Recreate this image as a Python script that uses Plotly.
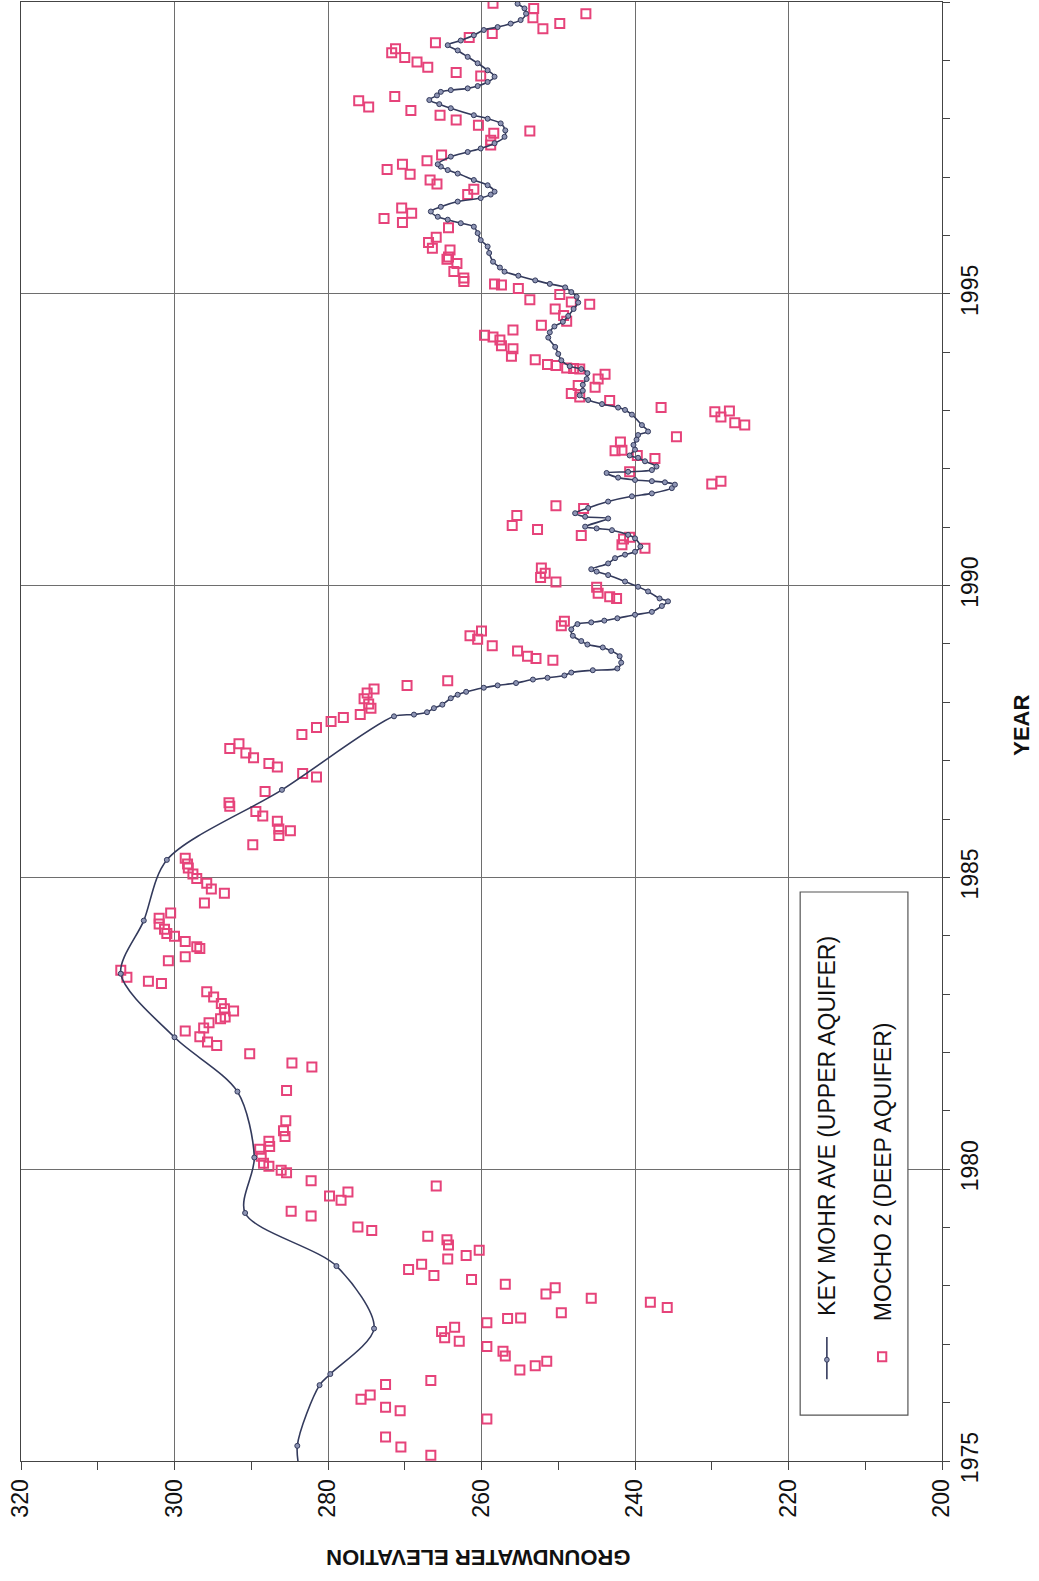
import plotly.graph_objects as go

# ---- Data: KEY MOHR AVE (UPPER AQUIFER) ----
upper_year = [
    1974.6, 1975.26, 1976.30, 1976.49, 1977.27, 1978.34, 1979.25, 1980.2, 1981.33, 1982.26,
    1983.35, 1984.26, 1985.30, 1986.50, 1987.76,
    1987.79, 1987.83, 1987.90, 1987.96, 1988.07, 1988.13, 1988.18, 1988.25, 1988.29, 1988.33,
    1988.39, 1988.42, 1988.46, 1988.51, 1988.55, 1988.58, 1988.68, 1988.79, 1988.88, 1988.94,
    1988.99, 1989.05, 1989.14, 1989.25, 1989.34, 1989.37, 1989.40, 1989.44, 1989.50, 1989.55,
    1989.65, 1989.73, 1989.78, 1989.90, 1989.98, 1990.07, 1990.18, 1990.24, 1990.28, 1990.38,
    1990.47, 1990.53, 1990.58, 1990.67, 1990.81, 1990.87, 1990.95, 1990.98, 1991.01, 1991.15,
    1991.18, 1991.24, 1991.33, 1991.44, 1991.53, 1991.58, 1991.67, 1991.73, 1991.77, 1991.79,
    1991.81, 1991.85, 1991.93, 1991.95, 1991.98, 1992.04, 1992.13, 1992.19, 1992.23, 1992.33,
    1992.41, 1992.50, 1992.58, 1992.64, 1992.75, 1992.93, 1993.01, 1993.05, 1993.11, 1993.18,
    1993.26, 1993.34, 1993.44, 1993.54, 1993.64, 1993.71, 1993.76, 1993.86, 1993.97, 1994.09,
    1994.25, 1994.34, 1994.44, 1994.52, 1994.62, 1994.74, 1994.85, 1994.95, 1995.03, 1995.11,
    1995.17, 1995.23, 1995.31, 1995.38, 1995.45, 1995.55, 1995.70, 1995.81, 1995.92, 1996.04,
    1996.15, 1996.21, 1996.27, 1996.32, 1996.41, 1996.49, 1996.58, 1996.64, 1996.70, 1996.75,
    1996.86, 1996.95, 1997.06, 1997.12, 1997.18, 1997.22, 1997.35, 1997.43, 1997.49, 1997.58,
    1997.69, 1997.80, 1997.92, 1998.00, 1998.06, 1998.18, 1998.25, 1998.32, 1998.40, 1998.46,
    1998.49, 1998.52, 1998.56, 1998.63, 1998.72, 1998.83, 1998.95, 1999.06, 1999.17, 1999.26,
    1999.34, 1999.43, 1999.52, 1999.57, 1999.63, 1999.69, 1999.80, 1999.89, 1999.97, 2000.05,
]
upper_elev = [
    283.3, 284.0, 281.1, 279.7, 274.0, 278.9, 290.8, 289.6, 291.8, 300.0,
    307.0, 304.0, 301.0, 286.0, 271.4,
    268.8, 267.1, 266.2, 265.1, 264.0, 263.1, 262.0, 259.7, 257.9, 255.5,
    253.3, 251.4, 249.2, 248.3, 245.5, 242.3, 241.8, 242.0, 243.1, 244.2,
    246.2, 247.0, 248.1, 248.3, 247.5, 245.7, 244.0, 242.3, 240.0, 237.8,
    236.5, 235.7, 236.8, 238.3, 239.6, 241.3, 243.5, 245.0, 245.7, 243.5,
    242.6, 241.3, 240.0, 239.3, 240.0, 240.9, 243.0, 245.0, 246.5, 243.5,
    246.5, 247.8, 246.1, 243.5, 240.4, 237.8, 235.2, 234.8, 236.1, 237.8,
    240.0, 242.2, 243.7, 240.9, 237.8, 237.2, 238.7, 239.6, 240.7, 240.0,
    240.2, 239.8, 239.6, 238.3, 239.1, 240.4, 241.3, 242.2, 244.3, 246.1,
    247.2, 246.8, 246.8, 246.3, 246.2, 247.0, 248.5, 249.6, 250.0, 250.4,
    251.3, 251.1, 250.5, 249.4, 248.7, 248.0, 247.4, 247.6, 248.3, 249.1,
    251.1, 253.0, 255.2, 257.0, 257.6, 258.5, 259.0, 259.2, 260.1, 260.5,
    261.0, 262.7, 264.4, 265.7, 266.6, 265.3, 263.1, 260.1, 258.8, 258.3,
    259.2, 261.0, 263.1, 264.4, 265.3, 265.7, 264.0, 261.8, 260.1, 258.3,
    257.0, 256.9, 257.5, 259.2, 261.0, 264.0, 265.5, 266.8, 265.8, 265.3,
    264.0, 261.8, 260.5, 259.2, 258.3, 259.2, 260.5, 261.8, 263.1, 264.4,
    262.7, 261.0, 259.7, 257.9, 256.2, 254.9, 254.2, 254.4, 255.3, 255.8,
]

# ---- Data: MOCHO 2 (DEEP AQUIFER) ----
deep_year = [
    1975.10, 1975.24, 1975.41, 1975.72, 1975.86, 1975.92, 1976.06, 1976.13, 1976.31, 1976.38,
    1976.56, 1976.63, 1976.71, 1976.80, 1976.88, 1976.96, 1977.05, 1977.11, 1977.22, 1977.29,
    1977.37, 1977.44, 1977.45, 1977.54, 1977.63, 1977.72, 1977.79, 1977.86, 1977.97, 1978.03,
    1978.11, 1978.18, 1978.28, 1978.37, 1978.46, 1978.52, 1978.61, 1978.70, 1978.79, 1978.85,
    1978.95, 1979.01, 1979.20, 1979.28, 1979.47, 1979.54, 1979.61, 1979.71, 1979.80,
    1979.94, 1979.98, 1980.05, 1980.10, 1980.22, 1980.34, 1980.39, 1980.48, 1980.56, 1980.66,
    1980.83, 1981.35, 1981.75, 1981.82, 1981.98, 1982.12, 1982.18, 1982.27, 1982.37, 1982.42,
    1982.51, 1982.58, 1982.61, 1982.71, 1982.75, 1982.84, 1982.95, 1983.04, 1983.18, 1983.22,
    1983.29, 1983.41, 1983.57, 1983.64, 1983.78, 1983.81, 1983.90, 1983.99, 1984.04, 1984.11,
    1984.20, 1984.30, 1984.39, 1984.56, 1984.73, 1984.80, 1984.90, 1984.98,
    1985.06, 1985.16, 1985.23, 1985.33, 1985.56, 1985.72, 1985.80, 1985.83, 1985.96, 1986.05,
    1986.13, 1986.22, 1986.28, 1986.47, 1986.72, 1986.78, 1986.89, 1986.95, 1987.05, 1987.13,
    1987.21, 1987.29, 1987.45, 1987.57, 1987.67, 1987.74, 1987.79, 1987.90, 1987.97, 1988.06,
    1988.16, 1988.23, 1988.29, 1988.37, 1988.72, 1988.75, 1988.79, 1988.88, 1988.97, 1989.08,
    1989.14, 1989.22, 1989.31, 1989.39,
    1989.78, 1989.81, 1989.87, 1989.97, 1990.06, 1990.14, 1990.21, 1990.30, 1990.64, 1990.70,
    1990.80, 1990.83, 1990.86, 1990.96, 1991.03, 1991.20, 1991.32, 1991.37, 1991.74, 1991.79,
    1991.95, 1992.18, 1992.23, 1992.31, 1992.32, 1992.46, 1992.55, 1992.75, 1992.79, 1992.89,
    1992.98, 1992.99, 1993.05, 1993.17, 1993.23, 1993.29, 1993.40, 1993.43, 1993.54, 1993.62,
    1993.71, 1993.72, 1993.73, 1993.77, 1993.79, 1993.87, 1993.93, 1994.06, 1994.11, 1994.21,
    1994.26, 1994.29, 1994.38, 1994.46, 1994.53, 1994.63, 1994.74, 1994.82, 1994.86, 1994.90,
    1994.99,
    1995.09, 1995.15, 1995.17, 1995.21, 1995.27, 1995.38, 1995.52, 1995.59, 1995.63, 1995.75,
    1995.78, 1995.88, 1995.97, 1996.13, 1996.22, 1996.29, 1996.38, 1996.47, 1996.70, 1996.79,
    1996.88, 1996.95, 1997.05, 1997.13, 1997.22, 1997.28, 1997.38, 1997.55, 1997.63, 1997.75,
    1997.79, 1997.89, 1997.98, 1998.06, 1998.14, 1998.20, 1998.31, 1998.38, 1998.73, 1998.79,
    1998.88, 1998.97, 1999.05, 1999.13, 1999.20, 1999.30, 1999.39, 1999.46, 1999.54, 1999.63,
    1999.73, 1999.80, 1999.89, 1999.98,
]
deep_elev = [
    266.6, 270.5, 272.5, 259.3, 270.6, 272.5, 275.7, 274.5, 272.5, 266.6,
    255.0, 253.0, 251.5, 256.9, 257.2, 259.3, 262.9, 264.8, 265.2, 263.5,
    259.3, 256.6, 254.9, 249.6, 235.8, 238.0, 245.7, 251.6, 250.4, 256.9,
    261.3, 266.2, 269.5, 267.8, 264.4, 262.0, 260.3, 264.3, 264.5, 267.0,
    274.3, 276.1, 282.2, 284.8, 278.3, 279.8, 277.4, 265.9, 282.2,
    285.4, 286.1, 287.7, 288.4, 288.7, 288.9, 287.6, 287.7, 285.6, 285.8,
    285.5, 285.4, 282.1, 284.7, 290.2, 294.5, 295.7, 296.7, 298.6, 296.2,
    295.5, 294.0, 293.4, 292.3, 293.5, 293.9, 294.9, 295.8, 301.7, 303.4,
    306.2, 307.0, 300.8, 298.6, 296.7, 297.1, 298.6, 300.0, 301.0, 301.3,
    302.0, 302.0, 300.5, 296.1, 293.5, 295.2, 295.8, 297.1,
    297.6, 298.2, 298.3, 298.6, 289.8, 286.4, 284.9, 286.4, 286.6, 288.5,
    289.4, 292.8, 292.9, 288.2, 281.5, 283.3, 286.6, 287.7, 289.7, 290.7,
    292.8, 291.6, 283.4, 281.5, 279.6, 278.0, 275.8, 274.4, 274.7, 275.3,
    274.9, 274.0, 269.7, 264.4, 250.7, 252.9, 254.0, 255.3, 258.6, 260.5,
    261.5, 260.0, 249.6, 249.2,
    242.4, 243.3, 244.8, 245.0, 250.3, 252.3, 251.7, 252.2, 238.7, 241.7,
    241.5, 240.7, 247.0, 252.7, 256.0, 255.4, 246.7, 250.3, 230.0, 228.8,
    240.7, 237.4, 239.7, 242.6, 241.7, 241.9, 234.6, 225.7, 227.0, 228.8,
    229.6, 227.7, 236.6, 243.3, 247.2, 248.3, 245.2, 247.4, 244.8, 243.9,
    247.2, 248.0, 248.9, 250.3, 251.4, 253.0, 256.1, 255.9, 257.4, 257.6,
    258.5, 259.6, 255.9, 252.2, 248.9, 249.3, 250.4, 245.9, 248.3, 253.7,
    249.8,
    255.2, 257.4, 258.3, 262.3, 262.3, 263.6, 263.2, 264.5, 264.3, 264.1,
    266.4, 266.9, 265.9, 264.3, 270.3, 272.7, 269.1, 270.4, 261.8, 261.0,
    265.8, 266.7, 269.3, 272.3, 270.3, 267.1, 265.2, 258.8, 258.8, 258.4,
    253.7, 260.4, 263.3, 265.4, 269.2, 274.7, 276.0, 271.3, 260.1, 263.3,
    267.0, 268.4, 270.0, 271.7, 271.2, 266.0, 261.6, 258.6, 252.0, 249.8,
    253.3, 246.4, 253.2, 258.5,
]

# ---- Axis ticks / labels ----
elev_ticks = [200, 220, 240, 260, 280, 300, 320]
year_ticks = [1975, 1980, 1985, 1990, 1995]
upper_name = "KEY MOHR AVE (UPPER AQUIFER)"
deep_name = "MOCHO 2 (DEEP AQUIFER)"
x_title = "GROUNDWATER ELEVATION"
y_title = "YEAR"

LINE_COL = "#333a5c"
PINK = "#e6437a"
GRID = "#6e6e6e"
FONT = "Liberation Sans, Arial, sans-serif"
NARROW = "Liberation Sans Narrow, Liberation Sans, Arial, sans-serif"

fig = go.Figure()
fig.add_trace(go.Scatter(
    x=deep_elev, y=deep_year, mode="markers", name=deep_name,
    marker=dict(symbol="square-open", size=9, color=PINK, line=dict(width=2, color=PINK)),
))
fig.add_trace(go.Scatter(
    x=upper_elev, y=upper_year, mode="lines+markers", name=upper_name,
    line=dict(color=LINE_COL, width=1.6, shape="spline", smoothing=0.85),
    marker=dict(symbol="circle", size=5, color="#8e95b4", line=dict(width=1, color=LINE_COL)),
))

fig.update_layout(
    width=1039, height=1581,
    margin=dict(l=21, r=97, t=2, b=120),
    paper_bgcolor="white", plot_bgcolor="white",
    showlegend=False,
    font=dict(family=FONT, color="black"),
)
fig.update_xaxes(
    range=[320, 200], tickvals=elev_ticks, tickangle=-90,
    tickfont=dict(size=23, family=FONT, color="#111"),
    showgrid=True, gridcolor=GRID, gridwidth=1,
    showline=True, linecolor="#444", linewidth=1.2, mirror=True,
    ticks="outside", ticklen=8, tickcolor="#444",
    minor=dict(dtick=10, tick0=200, ticks="outside", ticklen=8, tickcolor="#444", showgrid=False),
    zeroline=False,
)
fig.update_yaxes(
    range=[1975, 2000], tickvals=year_ticks, side="right", tickangle=-90,
    tickfont=dict(size=23, family=NARROW, color="#111"),
    showgrid=True, gridcolor=GRID, gridwidth=1,
    showline=True, linecolor="#444", linewidth=1.2, mirror=True,
    ticks="outside", ticklen=7, tickcolor="#444",
    minor=dict(dtick=1, tick0=1975, ticks="outside", ticklen=7, tickcolor="#444", showgrid=False),
    zeroline=False,
)

# Axis titles (rotated page)
fig.add_annotation(text=f"<b>{x_title}</b>", xref="paper", yref="paper", x=0.497, y=-0.066,
                   textangle=180, showarrow=False, xanchor="center", yanchor="middle",
                   font=dict(size=22, family=FONT, color="#111"))
fig.add_annotation(text=f"<b>{y_title}</b>", xref="paper", yref="paper", x=1.087, y=0.504,
                   textangle=-90, showarrow=False, xanchor="center", yanchor="middle",
                   font=dict(size=22, family=NARROW, color="#111"))

# Legend box (rotated)
fig.add_shape(type="rect", xref="paper", yref="paper", x0=0.846, x1=0.963, y0=0.0315, y1=0.390,
              line=dict(color="#555", width=1.2), fillcolor="white", layer="above")
fig.add_annotation(text=upper_name, xref="paper", yref="paper", x=0.875, y=0.2296,
                   textangle=-90, showarrow=False, xanchor="center", yanchor="middle",
                   font=dict(size=23, family=FONT, color="#111"))
fig.add_annotation(text=deep_name, xref="paper", yref="paper", x=0.936, y=0.198,
                   textangle=-90, showarrow=False, xanchor="center", yanchor="middle",
                   font=dict(size=23, family=FONT, color="#111"))
fig.add_shape(type="line", xref="paper", yref="paper", x0=0.875, x1=0.875, y0=0.056, y1=0.085,
              line=dict(color=LINE_COL, width=1.6), layer="above")
fig.add_shape(type="circle", xref="paper", yref="paper", x0=0.8725, x1=0.8775, y0=0.0677, y1=0.0711,
              line=dict(color=LINE_COL, width=1), fillcolor="#8e95b4", layer="above")
fig.add_shape(type="rect", xref="paper", yref="paper", x0=0.9305, x1=0.9395, y0=0.0683, y1=0.0745,
              line=dict(color=PINK, width=2), fillcolor="rgba(0,0,0,0)", layer="above")

fig.write_html("out.html", config={"displayModeBar": False},
               post_script="document.body.style.margin='0px';")
